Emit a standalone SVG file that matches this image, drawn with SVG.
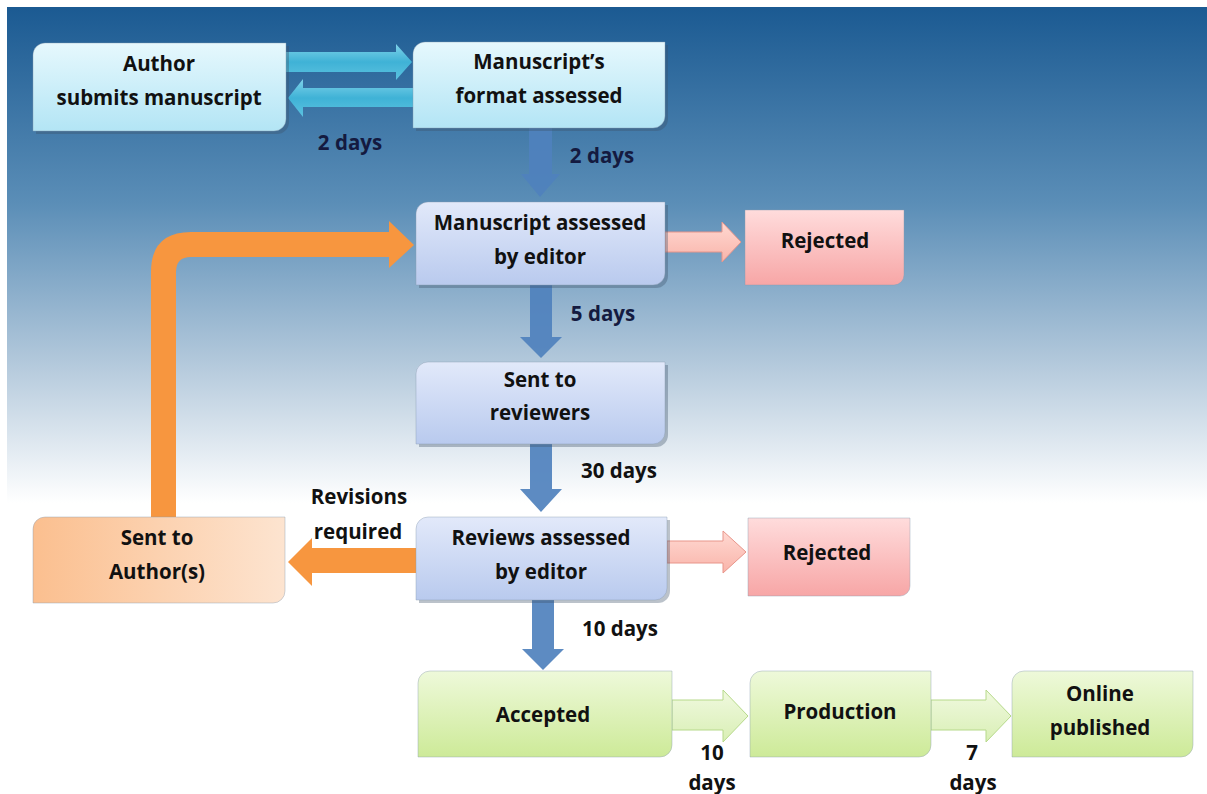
<svg xmlns="http://www.w3.org/2000/svg" width="1207" height="794" viewBox="0 0 1207 794">
<defs>
<linearGradient id="bg" x1="0" y1="0" x2="0" y2="1">
<stop offset="0" stop-color="#1b5a92"/>
<stop offset="0.25" stop-color="#5b8eb7"/>
<stop offset="0.45" stop-color="#b2c8db"/>
<stop offset="0.63" stop-color="#ffffff"/>
<stop offset="1" stop-color="#ffffff"/>
</linearGradient>
<linearGradient id="gCyan" x1="0" y1="0" x2="0" y2="1">
<stop offset="0" stop-color="#e6f8fd"/>
<stop offset="1" stop-color="#b3e5f5"/>
</linearGradient>
<linearGradient id="gBlue" x1="0" y1="0" x2="0" y2="1">
<stop offset="0" stop-color="#e2e9fa"/>
<stop offset="1" stop-color="#b9caee"/>
</linearGradient>
<linearGradient id="gPink" x1="0" y1="0" x2="0" y2="1">
<stop offset="0" stop-color="#ffdcdc"/>
<stop offset="1" stop-color="#f7a6a6"/>
</linearGradient>
<linearGradient id="gPeach" x1="0" y1="0" x2="1" y2="0">
<stop offset="0" stop-color="#fbbf8f"/>
<stop offset="1" stop-color="#fde4d0"/>
</linearGradient>
<linearGradient id="gGreen" x1="0" y1="0" x2="0" y2="1">
<stop offset="0" stop-color="#eef9da"/>
<stop offset="1" stop-color="#cdea98"/>
</linearGradient>
<linearGradient id="gCyanArrow" x1="0" y1="0" x2="0" y2="1">
<stop offset="0" stop-color="#7fd3ea"/>
<stop offset="0.5" stop-color="#3fb2d6"/>
<stop offset="1" stop-color="#5cc2e0"/>
</linearGradient>
<linearGradient id="gPinkArrow" x1="0" y1="0" x2="0" y2="1">
<stop offset="0" stop-color="#ffd9d2"/>
<stop offset="1" stop-color="#f9b4aa"/>
</linearGradient>
<linearGradient id="gGreenArrow" x1="0" y1="0" x2="0" y2="1">
<stop offset="0" stop-color="#f0f9df"/>
<stop offset="1" stop-color="#d9efb5"/>
</linearGradient>
</defs>
<style>
text{font-family:"Open Sans","Noto Sans","Liberation Sans",sans-serif;font-weight:700;font-size:20.5px;fill:#111;text-anchor:middle}
.lab{fill:#141a40}
.box{stroke:#8a9bb0;stroke-width:0.8;stroke-opacity:0.5}
.sh{fill:#3c4f66;opacity:0.35}
.blue{fill:#4f81bd;fill-opacity:0.92}
.orange{fill:#f7963f}
.pink{fill:url(#gPinkArrow);stroke:#e8958a;stroke-width:1}
.green{fill:url(#gGreenArrow);stroke:#b6d98a;stroke-width:1}
.cyan{fill:url(#gCyanArrow)}
</style>
<rect x="0" y="0" width="1207" height="794" fill="#ffffff"/>
<rect x="7" y="7" width="1200" height="787" fill="url(#bg)"/>

<g id="connectors">
<polygon class="cyan" points="286,52 396,52 396,44 412,62 396,80 396,72 286,72"/>
<polygon class="cyan" points="413,88 303,88 303,79 288,98 303,117 303,107 413,107"/>
<polygon class="blue" points="529,128 552,128 552,174 560,174 540,197 521,174 529,174"/>
<polygon class="blue" points="530,285 552,285 552,337 562,337 541,358 520,337 530,337"/>
<polygon class="blue" points="530,444 552,444 552,489 562,489 541,512 520,489 530,489"/>
<polygon class="blue" points="532,600 554,600 554,649 564,649 543,670 522,649 532,649"/>
<path class="orange" d="M151,517 V272 Q151,232 191,232 H389 V221 L414,245 L389,268 V257 H191 Q176,257 176,272 V517 Z"/>
<polygon class="orange" points="416,548 312,548 312,538 288,562 312,586 312,573 416,573"/>
<polygon class="pink" points="665,232 722,232 722,222 741,242 722,262 722,252 665,252"/>
<polygon class="pink" points="667,541 723,541 723,531 746,552 723,573 723,563 667,563"/>
<polygon class="green" points="672,700 723,700 723,690 748,716 723,742 723,730 672,730"/>
<polygon class="green" points="931,700 986,700 986,690 1011,716 986,742 986,730 931,730"/>
</g>

<g id="author">
<path class="sh" d="M47,46 H289 V122 A12,12 0 0 1 277,134 H36 V58 A12,12 0 0 1 48,46 Z"/>
<path class="box" fill="url(#gCyan)" d="M45,43 H286 V119 A12,12 0 0 1 274,131 H33 V55 A12,12 0 0 1 45,43 Z"/>
<text x="159" y="71">Author</text>
<text x="159" y="105">submits manuscript</text>
</g>
<g id="format">
<path class="sh" d="M428,45 H668 V119 A12,12 0 0 1 656,131 H416 V57 A12,12 0 0 1 428,45 Z"/>
<path class="box" fill="url(#gCyan)" d="M425,42 H665 V116 A12,12 0 0 1 653,128 H413 V54 A12,12 0 0 1 425,42 Z"/>
<text x="539" y="69">Manuscript’s</text>
<text x="539" y="103">format assessed</text>
</g>
<g id="editor1">
<path class="sh" d="M431,205 H668 V276 A12,12 0 0 1 656,288 H419 V217 A12,12 0 0 1 431,205 Z"/>
<path class="box" fill="url(#gBlue)" d="M428,202 H665 V273 A12,12 0 0 1 653,285 H416 V214 A12,12 0 0 1 428,202 Z"/>
<text x="540" y="230">Manuscript assessed</text>
<text x="540" y="264">by editor</text>
</g>
<g id="rejected1">
<path class="box" fill="url(#gPink)" d="M745,210 H904 V275 A10,10 0 0 1 894,285 H745 Z"/>
<text x="825" y="248">Rejected</text>
</g>
<g id="reviewers">
<path class="sh" d="M431,365 H668 V435 A12,12 0 0 1 656,447 H419 V377 A12,12 0 0 1 431,365 Z"/>
<path class="box" fill="url(#gBlue)" d="M428,362 H665 V432 A12,12 0 0 1 653,444 H416 V374 A12,12 0 0 1 428,362 Z"/>
<text x="540" y="387">Sent to</text>
<text x="540" y="420">reviewers</text>
</g>
<g id="editor2">
<path class="sh" d="M431,520 H670 V591 A12,12 0 0 1 658,603 H419 V532 A12,12 0 0 1 431,520 Z"/>
<path class="box" fill="url(#gBlue)" d="M428,517 H667 V588 A12,12 0 0 1 655,600 H416 V529 A12,12 0 0 1 428,517 Z"/>
<text x="541" y="545">Reviews assessed</text>
<text x="541" y="579">by editor</text>
</g>
<g id="rejected2">
<path class="box" fill="url(#gPink)" d="M748,518 H910 V586 A10,10 0 0 1 900,596 H748 Z"/>
<text x="827" y="560">Rejected</text>
</g>
<g id="sentAuthor">
<path class="box" fill="url(#gPeach)" d="M45,517 H285 V591 A12,12 0 0 1 273,603 H33 V529 A12,12 0 0 1 45,517 Z"/>
<text x="157" y="545">Sent to</text>
<text x="157" y="579">Author(s)</text>
</g>
<g id="accepted">
<path class="box" fill="url(#gGreen)" d="M430,671 H672 V745 A12,12 0 0 1 660,757 H418 V683 A12,12 0 0 1 430,671 Z"/>
<text x="543" y="722">Accepted</text>
</g>
<g id="production">
<path class="box" fill="url(#gGreen)" d="M762,671 H931 V745 A12,12 0 0 1 919,757 H750 V683 A12,12 0 0 1 762,671 Z"/>
<text x="840" y="719">Production</text>
</g>
<g id="online">
<path class="box" fill="url(#gGreen)" d="M1024,671 H1193 V745 A12,12 0 0 1 1181,757 H1012 V683 A12,12 0 0 1 1024,671 Z"/>
<text x="1100" y="701">Online</text>
<text x="1100" y="735">published</text>
</g>

<g id="labels">
<text class="lab" x="350" y="150">2 days</text>
<text class="lab" x="602" y="163">2 days</text>
<text class="lab" x="603" y="321">5 days</text>
<text x="619" y="478">30 days</text>
<text x="359" y="504">Revisions</text>
<text x="358" y="539">required</text>
<text x="620" y="636">10 days</text>
<text x="712" y="760">10</text>
<text x="712" y="790">days</text>
<text x="972" y="760">7</text>
<text x="973" y="790">days</text>
</g>
</svg>
